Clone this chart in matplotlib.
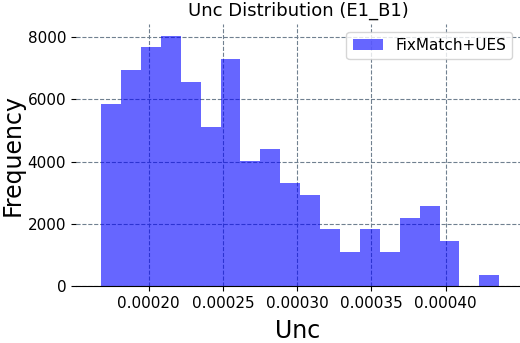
import numpy as np
import matplotlib
matplotlib.use('Agg')
import matplotlib.pyplot as plt

# --- Dados ---
unc_min = 0.000168
unc_max = 0.000436
contagens = [5850, 6940, 7670, 8030, 6570, 5110, 7300, 4020, 4390, 3300,
             2920, 1830, 1100, 1830, 1100, 2190, 2560, 1460, 0, 350]
legenda = 'FixMatch+UES'
titulo = 'Unc Distribution (E1_B1)'

bordas = np.linspace(unc_min, unc_max, len(contagens) + 1)
centros = (bordas[:-1] + bordas[1:]) / 2

fig = plt.figure(figsize=(5.2, 3.43), dpi=100)
ax = fig.add_axes([0.146, 0.166, 0.854, 0.764])

ax.hist(centros, bins=bordas, weights=contagens, color='blue', alpha=0.6,
        label=legenda, zorder=2)

ax.set_xlim(0.000151, 0.00045)
ax.set_ylim(0, 8420)
ax.set_xticks([0.00020, 0.00025, 0.00030, 0.00035, 0.00040])
ax.set_yticks([0, 2000, 4000, 6000, 8000])
ax.tick_params(labelsize=11)

ax.grid(True, linestyle='--', color='slategray', linewidth=0.8, zorder=0)
for lado in ['top', 'right', 'left']:
    ax.spines[lado].set_visible(False)

ax.set_title(titulo, fontsize=13)
ax.set_xlabel('Unc', fontsize=17, labelpad=6)
ax.set_ylabel('Frequency', fontsize=17, labelpad=2)
ax.legend(loc='upper right', fontsize=11)

fig.savefig('out.png', dpi=100)
